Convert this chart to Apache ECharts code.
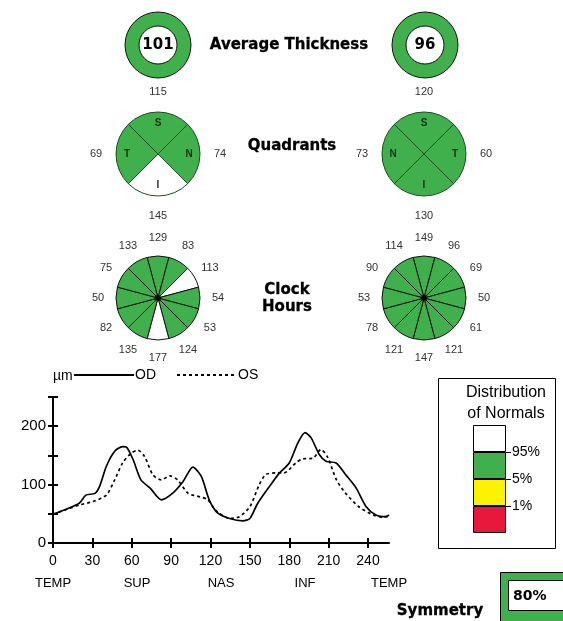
<!DOCTYPE html>
<html>
<head>
<meta charset="utf-8">
<script src="https://cdn.jsdelivr.net/npm/echarts@6/dist/echarts.min.js"></script>
<style>
html,body{margin:0;padding:0;background:#fff;}
#c{width:563px;height:621px;}
</style>
</head>
<body>
<div id="c"></div>
<script>
// ---------- data ----------
const avgThickness = [101, 96];            // OD, OS
const avgStatus = ['g', 'g'];

const quadNamesOD = ['S', 'N', 'I', 'T'];  // clockwise from top
const quadOD = [115, 74, 145, 69];
const quadStatusOD = ['g', 'g', 'w', 'g'];

const quadNamesOS = ['S', 'T', 'I', 'N'];
const quadOS = [120, 60, 130, 73];
const quadStatusOS = ['g', 'g', 'g', 'g'];

// clock hours, 12 o'clock first, clockwise
const clockOD = [129, 83, 113, 54, 53, 124, 177, 135, 82, 50, 75, 133];
const clockStatusOD = ['g', 'g', 'w', 'g', 'g', 'g', 'w', 'g', 'g', 'g', 'g', 'g'];
const clockOS = [149, 96, 69, 50, 61, 121, 147, 121, 78, 53, 90, 114];
const clockStatusOS = ['g', 'g', 'g', 'g', 'g', 'g', 'g', 'g', 'g', 'g', 'g', 'g'];

// TSNIT profile
const odX = [0, 20, 25, 32, 35.5, 40.6, 47, 53, 56, 61, 67, 74, 82.5, 91, 99, 106.6, 113, 119, 125.6, 134.5, 144.7, 150, 156, 165, 172.6, 180, 186.5, 192, 196.7, 203, 208, 215.7, 223, 231, 238.6, 246, 254, 256];
const odY = [49, 68, 82, 85, 97, 131, 157, 165, 164, 143, 108, 94, 74, 85, 105, 130, 114, 74, 51, 42, 38, 42, 68, 97, 120, 137, 171, 189, 180, 151, 140, 137, 117, 94, 62, 48, 45, 48];
const osX = [0, 20, 30.5, 40.6, 47, 53, 59.6, 64.7, 69.8, 76, 82.5, 89, 95, 103, 112, 118, 124, 134.5, 142, 150, 157, 162, 170, 176, 185, 190, 198, 204, 209, 216, 223, 233, 244, 251, 256];
const osY = [49, 65, 71, 82, 108, 137, 154, 159, 148, 117, 108, 115, 108, 85, 79, 74, 56, 42, 45, 62, 99, 117, 120, 120, 137, 144, 145, 160, 148, 108, 85, 62, 48, 44, 46];

const xTicks = [0, 30, 60, 90, 120, 150, 180, 210, 240];
const regionPos = [0, 64, 128, 192, 256];
const regionNames = ['TEMP', 'SUP', 'NAS', 'INF', 'TEMP'];
const yLabelVals = [0, 100, 200];

const distLabels = ['1%', '5%', '95%'];
const distBands = [1, 1, 1, 1];            // <1%, 1-5%, 5-95%, >95%
const distColors = ['#e8173c', '#fff200', '#3fb04b', '#ffffff'];

const symmetry = 80;

// ---------- helpers ----------
const GREEN = '#3fb04b';
const statusColor = s => s === 'w' ? '#ffffff' : GREEN;
const colL = 158, colR = 424;
const yAvg = 45, yQuad = 154, yClock = 298;

function base(center, radius, startAngle, z) {
  return {
    type: 'pie', center: center, radius: radius, startAngle: startAngle,
    clockwise: true, silent: true, animation: false, z: z || 2,
    avoidLabelOverlap: false, labelLine: {show: false},
    emphasis: {disabled: true}
  };
}

function avgRing(cx, value, status) {
  return Object.assign(base([cx, yAvg], [19, 33], 90), {
    itemStyle: {color: statusColor(status), borderColor: '#111', borderWidth: 1},
    label: {show: true, position: 'center', formatter: () => String(value),
      fontSize: 15, fontWeight: 'bold', color: '#000', fontFamily: 'DejaVu Sans'},
    data: [{value: 1}]
  });
}

function sectors(cx, cy, r, startAngle, status, borderColor) {
  return Object.assign(base([cx, cy], [0, r], startAngle), {
    itemStyle: {borderColor: borderColor, borderWidth: 1},
    label: {show: false},
    data: status.map(s => ({value: 1, itemStyle: {color: statusColor(s)}}))
  });
}

function ringLabels(cx, cy, r0, r1, startAngle, texts, fontSize, color, weight, z) {
  return Object.assign(base([cx, cy], [r0, r1], startAngle, z || 3), {
    itemStyle: {color: 'rgba(0,0,0,0)', borderWidth: 0},
    label: {show: true, position: 'inside', rotate: 0, formatter: p => String(p.data.t),
      fontSize: fontSize, color: color, fontWeight: weight || 'normal', fontFamily: 'Liberation Sans'},
    data: texts.map(t => ({value: 1, t: t}))
  });
}

const hdr = (text, x, y) => ({
  type: 'text', x: x, y: y, silent: true,
  style: {text: text, align: 'center', verticalAlign: 'middle', fill: '#000',
    font: 'bold 15px "DejaVu Sans"', stroke: '#000', lineWidth: 0.3}
});

// ---------- option ----------
const chart = echarts.init(document.getElementById('c'), null, {renderer: 'canvas'});

const series = [
  // TSNIT lines
  {name: 'OD', type: 'line', xAxisIndex: 0, yAxisIndex: 0, symbol: 'none', smooth: 0.25,
    lineStyle: {color: '#000', width: 1.7}, itemStyle: {color: '#000'},
    data: odX.map((x, i) => [x, odY[i]])},
  {name: 'OS', type: 'line', xAxisIndex: 0, yAxisIndex: 0, symbol: 'none', smooth: 0.25,
    lineStyle: {color: '#000', width: 1.7, type: [3, 3]}, itemStyle: {color: '#000'},
    data: osX.map((x, i) => [x, osY[i]])},
  // average thickness rings
  avgRing(colL, avgThickness[0], avgStatus[0]),
  avgRing(colR + 1, avgThickness[1], avgStatus[1]),
  // quadrants
  sectors(colL, yQuad, 42, 135, quadStatusOD, '#1e4d25'),
  sectors(colR, yQuad, 42, 135, quadStatusOS, '#1e4d25'),
  ringLabels(colL, yQuad, 14, 42, 135, quadNamesOD, 10, '#1a2e1a', 'bold'),
  ringLabels(colR, yQuad, 14, 42, 135, quadNamesOS, 10, '#1a2e1a', 'bold'),
  ringLabels(colL, yQuad, 51, 67, 135, quadOD, 11, '#333'),
  ringLabels(colR, yQuad, 51, 67, 135, quadOS, 11, '#333'),
  // clock hours
  sectors(colL, yClock, 42, 105, clockStatusOD, '#111'),
  sectors(colR, yClock, 42, 105, clockStatusOS, '#111'),
  Object.assign(base([colL, yClock], [0, 3], 45, 4), {itemStyle: {color: '#000'}, label: {show: false}, data: [{value: 1}]}),
  Object.assign(base([colR, yClock], [0, 3], 45, 4), {itemStyle: {color: '#000'}, label: {show: false}, data: [{value: 1}]}),
  ringLabels(colL, yClock, 49, 65, 105, clockOD, 11, '#333'),
  ringLabels(colR, yClock, 49, 65, 105, clockOS, 11, '#333')
];

// distribution of normals bar
distBands.forEach((v, i) => {
  series.push({type: 'bar', xAxisIndex: 2, yAxisIndex: 2, stack: 'dist', barWidth: '100%',
    silent: true, animation: false,
    itemStyle: {color: distColors[i], borderColor: '#000', borderWidth: 1},
    data: [v]});
});

const option = {
  backgroundColor: '#fff',
  animation: false,
  textStyle: {fontFamily: 'Liberation Sans'},
  legend: {
    data: ['OD', 'OS'], left: 73, top: 368, itemWidth: 60, itemHeight: 14, itemGap: 20,
    padding: 0, selectedMode: false,
    itemStyle: {opacity: 0},
    textStyle: {fontSize: 14, color: '#000', padding: [0, 0, 0, -4]}
  },
  grid: [
    {left: 53, top: 397, width: 336, height: 146, containLabel: false},
    {left: 473, top: 425, width: 33, height: 108, containLabel: false}
  ],
  xAxis: [
    {gridIndex: 0, type: 'value', position: 'bottom', min: 0, max: 256,
      axisLine: {show: true, lineStyle: {color: '#000', width: 2}},
      axisTick: {show: true, customValues: xTicks, length: 5, lineStyle: {color: '#000', width: 2}},
      axisLabel: {customValues: xTicks, color: '#000', fontSize: 14, margin: 11,
        formatter: v => (xTicks.indexOf(v) >= 0 ? String(v) : '')},
      splitLine: {show: false}},
    {gridIndex: 0, type: 'value', position: 'bottom', min: 0, max: 256,
      axisLine: {show: false},
      axisTick: {show: true, inside: true, customValues: xTicks, length: 5, lineStyle: {color: '#000', width: 2}},
      axisLabel: {customValues: regionPos, color: '#000', fontSize: 13, margin: 34,
        formatter: v => { const k = regionPos.indexOf(v); return k >= 0 ? regionNames[k] : ''; }},
      splitLine: {show: false}},
    {gridIndex: 1, type: 'category', data: [''], show: false}
  ],
  yAxis: [
    {gridIndex: 0, type: 'value', position: 'left', min: 0, max: 250, interval: 50,
      name: 'µm', nameLocation: 'end', nameGap: 14,
      nameTextStyle: {color: '#000', fontSize: 14, align: 'left'},
      axisLine: {show: true, lineStyle: {color: '#000', width: 2}},
      axisTick: {show: true, length: 5, lineStyle: {color: '#000', width: 2}},
      axisLabel: {color: '#000', fontSize: 15, margin: 7,
        formatter: v => (yLabelVals.indexOf(v) >= 0 ? String(v) : '')},
      splitLine: {show: false}},
    {gridIndex: 0, type: 'value', position: 'left', min: 0, max: 250, interval: 50,
      axisLine: {show: false},
      axisTick: {show: true, inside: true, length: 5, lineStyle: {color: '#000', width: 2}},
      axisLabel: {show: false}, splitLine: {show: false}},
    {gridIndex: 1, type: 'value', position: 'right', min: 0, max: 4, interval: 1,
      axisLine: {show: false},
      axisTick: {show: true, customValues: [1, 2, 3], length: 5, lineStyle: {color: '#000', width: 1}},
      axisLabel: {customValues: [1, 2, 3], color: '#000', fontSize: 14, margin: 6,
        formatter: v => (v >= 1 && v <= 3 ? distLabels[v - 1] : '')},
      splitLine: {show: false}}
  ],
  graphic: [
    hdr('Average Thickness', 289, 45),
    hdr('Quadrants', 292, 146),
    hdr('Clock', 287, 290),
    hdr('Hours', 287, 307),
    {type: 'rect', shape: {x: 438.5, y: 378.5, width: 117, height: 170}, silent: true,
      style: {fill: 'none', stroke: '#000', lineWidth: 1}},
    {type: 'text', x: 506, y: 393, silent: true,
      style: {text: 'Distribution', align: 'center', verticalAlign: 'middle', fill: '#000', font: '16px "Liberation Sans"'}},
    {type: 'text', x: 506, y: 414, silent: true,
      style: {text: 'of Normals', align: 'center', verticalAlign: 'middle', fill: '#000', font: '16px "Liberation Sans"'}},
    {type: 'rect', shape: {x: 500.5, y: 572.5, width: 70, height: 60}, silent: true,
      style: {fill: GREEN, stroke: '#000', lineWidth: 1}},
    {type: 'rect', shape: {x: 508.5, y: 580.5, width: 70, height: 30}, silent: true,
      style: {fill: '#fff', stroke: '#000', lineWidth: 1}},
    {type: 'text', x: 513, y: 596, silent: true,
      style: {text: symmetry + '%', align: 'left', verticalAlign: 'middle', fill: '#000', font: 'bold 14px "DejaVu Sans"'}},
    hdr('Symmetry', 440, 611)
  ],
  series: series
};

chart.setOption(option);
</script>
</body>
</html>
